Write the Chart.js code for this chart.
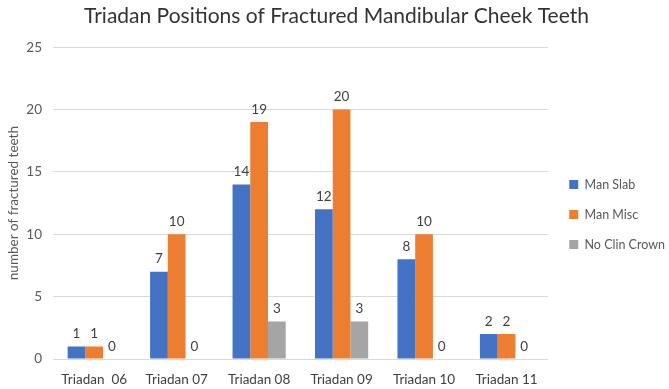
<!DOCTYPE html>
<html>
<head>
<meta charset="utf-8">
<script src="https://cdn.jsdelivr.net/npm/chart.js@4/dist/chart.umd.min.js"></script>
<style>
html,body{margin:0;padding:0;background:#fff;}
#wrap{width:669px;height:389px;}
</style>
</head>
<body>
<div id="wrap"><canvas id="c" width="669" height="389"></canvas></div>
<script>
const categories = ['Triadan  06','Triadan 07','Triadan 08','Triadan 09','Triadan 10','Triadan 11'];
const manSlab = [1,7,14,12,8,2];
const manMisc = [1,10,19,20,10,2];
const noClinCrown = [0,0,3,3,0,0];
const yTicks = [0,5,10,15,20,25];

const FONT = 'Lato, "Open Sans", sans-serif';

const dataLabels = {
  id:'dataLabels',
  afterDatasetsDraw(chart){
    const ctx = chart.ctx;
    ctx.save();
    ctx.font = '13.5px ' + FONT;
    ctx.fillStyle = '#404040';
    ctx.textAlign = 'center';
    ctx.textBaseline = 'bottom';
    chart.data.datasets.forEach((ds,i)=>{
      const meta = chart.getDatasetMeta(i);
      meta.data.forEach((bar,j)=>{
        ctx.fillText(String(ds.data[j]), bar.x, bar.y - 6);
      });
    });
    ctx.restore();
  }
};

const legendShift = {
  id:'legendShift',
  afterLayout(chart){
    const lg = chart.legend;
    if(!lg) return;
    lg.left += 4; lg.right += 4;
    lg.top += 18; lg.bottom += 18;
  }
};

new Chart(document.getElementById('c'),{
  type:'bar',
  data:{
    labels:categories,
    datasets:[
      {label:'Man Slab',data:manSlab,backgroundColor:'#4472C4'},
      {label:'Man Misc',data:manMisc,backgroundColor:'#ED7D31'},
      {label:'No Clin Crown',data:noClinCrown,backgroundColor:'#A5A5A5'}
    ]
  },
  options:{
    responsive:false,
    animation:false,
    devicePixelRatio:1,
    layout:{padding:{left:2,right:-2,top:4,bottom:0}},
    datasets:{bar:{barPercentage:1,categoryPercentage:0.645}},
    scales:{
      x:{
        grid:{display:false,drawTicks:false},
        border:{color:'#d9d9d9'},
        ticks:{color:'#404040',font:{family:FONT,size:13.5},padding:13},
        afterFit(s){ s.height = 30; }
      },
      y:{
        min:0,max:25,
        afterBuildTicks(axis){axis.ticks = yTicks.map(v=>({value:v}));},
        grid:{color:'#d9d9d9',drawTicks:false},
        border:{display:false},
        ticks:{color:'#595959',font:{family:FONT,size:13.5},padding:11},
        title:{display:true,text:'number of fractured teeth',color:'#595959',font:{family:FONT,size:13.5},padding:{top:4,bottom:0}},
        afterFit(s){ s.width = 51; }
      }
    },
    plugins:{
      title:{display:true,text:'Triadan Positions of Fractured Mandibular Cheek Teeth',color:'#333333',font:{family:FONT,size:21,weight:'normal'},padding:{top:0,bottom:18}},
      legend:{
        position:'right',
        labels:{boxWidth:9,boxHeight:9,color:'#595959',font:{family:FONT,size:12.5},padding:17.5}
      },
      tooltip:{enabled:false}
    }
  },
  plugins:[dataLabels, legendShift]
});
</script>
</body>
</html>
